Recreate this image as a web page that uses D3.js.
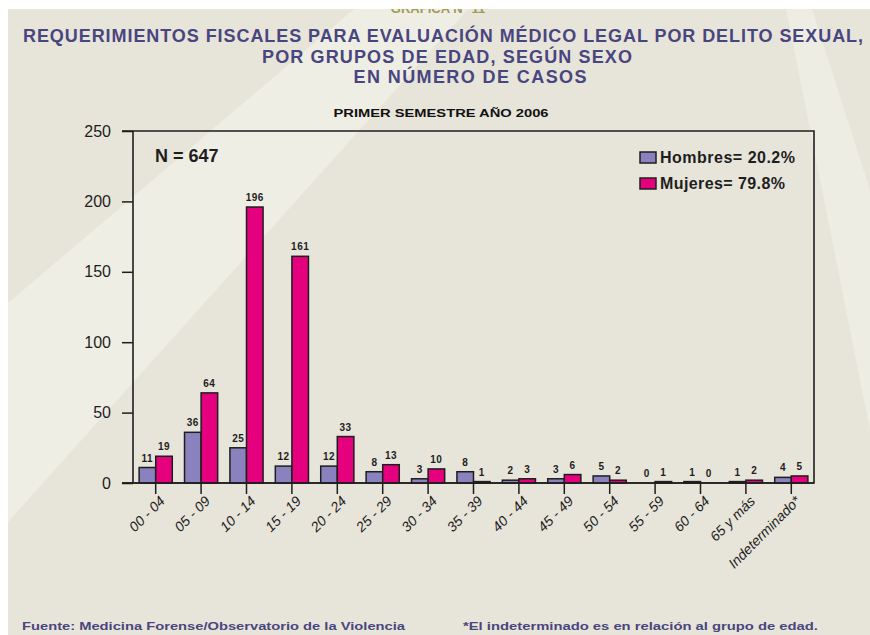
<!DOCTYPE html>
<html>
<head>
<meta charset="utf-8">
<script src="https://cdn.jsdelivr.net/npm/d3@7"></script>
<style>
  html, body { margin: 0; padding: 0; background: #ffffff; }
  svg { display: block; }
  text { font-family: "Liberation Sans", Arial, sans-serif; }
</style>
</head>
<body>
<svg id="chart" width="870" height="635"></svg>
<script>
// ---------- DATA ----------
const categories = ["00 - 04", "05 - 09", "10 - 14", "15 - 19", "20 - 24", "25 - 29", "30 - 34",
  "35 - 39", "40 - 44", "45 - 49", "50 - 54", "55 - 59", "60 - 64", "65 y más", "Indeterminado*"];
const hombres = [11, 36, 25, 12, 12, 8, 3, 8, 2, 3, 5, 0, 1, 1, 4];
const mujeres = [19, 64, 196, 161, 33, 13, 10, 1, 3, 6, 2, 1, 0, 2, 5];
const seriesNames = ["Hombres= 20.2%", "Mujeres= 79.8%"];
const seriesKeys = ["hombres", "mujeres"];
const yTicks = [0, 50, 100, 150, 200, 250];
const titleLines = [
  "REQUERIMIENTOS FISCALES PARA EVALUACIÓN MÉDICO LEGAL POR DELITO SEXUAL,",
  "POR GRUPOS DE EDAD, SEGÚN SEXO",
  "EN NÚMERO DE CASOS"
];
const subtitle = "PRIMER SEMESTRE AÑO 2006";
const nLabel = "N = 647";
const footLeft = "Fuente: Medicina Forense/Observatorio de la Violencia";
const footRight = "*El indeterminado es en relación al grupo de edad.";
const topCut = "GRÁFICA N° 11";

// ---------- STYLE ----------
const colors = { hombres: "#8a82bf", mujeres: "#e5007d" };
const titleColor = "#49467f";
const ink = "#1e1e1e";

const svg = d3.select("#chart");

// background
svg.append("rect").attr("x", 8).attr("y", 9).attr("width", 862).attr("height", 626).attr("fill", "#e7e4d9");
svg.append("polygon").attr("points", "8,303 354,9 468,9 8,522").attr("fill", "#efeee4");
svg.append("polygon").attr("points", "786,9 812,9 870,190 870,430").attr("fill", "#eeede3");

// partially cut heading at very top
svg.append("text").attr("x", 438).attr("y", 13).attr("text-anchor", "middle")
  .attr("font-size", 13).attr("font-weight", "bold").attr("fill", "#a39b52").text(topCut);
svg.append("rect").attr("x", 0).attr("y", 0).attr("width", 870).attr("height", 9).attr("fill", "#ffffff");
svg.append("rect").attr("x", 0).attr("y", 0).attr("width", 8).attr("height", 635).attr("fill", "#ffffff");

// titles
const titleX = [443, 447, 470];
const titleY = [42, 63, 83];
const titleW = [840, 370, 233];
titleLines.forEach((t, i) => {
  svg.append("text").attr("x", titleX[i]).attr("y", titleY[i]).attr("text-anchor", "middle")
    .attr("font-size", 18).attr("font-weight", "bold").attr("fill", titleColor)
    .attr("textLength", titleW[i]).attr("lengthAdjust", "spacing").text(t);
});
svg.append("text").attr("x", 441).attr("y", 117).attr("text-anchor", "middle")
  .attr("font-size", 11).attr("font-weight", "bold").attr("fill", "#111")
  .attr("textLength", 215).attr("lengthAdjust", "spacingAndGlyphs").text(subtitle);

// ---------- SCALES ----------
const pLeft = 133, pRight = 814, pTop = 131, pBottom = 483;
const x0 = d3.scaleBand().domain(categories).range([pLeft, pRight]).paddingInner(0.27).paddingOuter(0.135);
const x1 = d3.scaleBand().domain(seriesKeys).range([0, x0.bandwidth()]).padding(0);
const y = d3.scaleLinear().domain([0, 250]).range([pBottom, pTop]);

// y axis
const yAxis = svg.append("g").attr("transform", `translate(${pLeft},0)`)
  .call(d3.axisLeft(y).tickValues(yTicks).tickSize(11).tickPadding(11));
yAxis.select(".domain").remove();
yAxis.selectAll(".tick line").attr("stroke", ink).attr("stroke-width", 1.5);
yAxis.selectAll(".tick text").attr("font-size", 16).attr("fill", ink)
  .attr("font-family", "'Liberation Sans', Arial, sans-serif");

// x axis ticks & labels
const xAxis = svg.append("g").attr("transform", `translate(0,${pBottom})`)
  .call(d3.axisBottom(x0).tickSize(11).tickFormat(""));
xAxis.select(".domain").remove();
xAxis.selectAll(".tick line").attr("stroke", ink).attr("stroke-width", 1.5);

svg.append("g").selectAll("text").data(categories).join("text")
  .attr("transform", d => `translate(${x0(d) + x0.bandwidth() / 2 + 10},${pBottom + 19}) rotate(-45)`)
  .attr("text-anchor", "end").attr("font-size", 14).attr("font-style", "italic").attr("fill", ink)
  .text(d => d);

// frame
svg.append("path")
  .attr("d", `M${pLeft - 11},${pTop}H${pRight}V${pBottom}H${pLeft - 11}M${pLeft},${pTop}V${pBottom}`)
  .attr("fill", "none").attr("stroke", ink).attr("stroke-width", 1.6);

// bars
const rows = categories.map((c, i) => ({ cat: c, hombres: hombres[i], mujeres: mujeres[i] }));
const groups = svg.append("g").selectAll("g").data(rows).join("g")
  .attr("transform", d => `translate(${x0(d.cat)},0)`);
groups.selectAll("rect").data(d => seriesKeys.map(k => ({ key: k, value: d[k] })).filter(e => e.value > 0))
  .join("rect")
  .attr("x", d => x1(d.key)).attr("width", x1.bandwidth())
  .attr("y", d => y(d.value)).attr("height", d => y(0) - y(d.value))
  .attr("fill", d => colors[d.key]).attr("stroke", ink).attr("stroke-width", 1.5);
groups.selectAll("text").data(d => seriesKeys.map(k => ({ key: k, value: d[k] })))
  .join("text")
  .attr("x", d => x1(d.key) + x1.bandwidth() / 2)
  .attr("y", d => y(d.value) - 6)
  .attr("text-anchor", "middle").attr("font-size", 10).attr("font-weight", "bold")
  .attr("letter-spacing", 0.5).attr("fill", ink)
  .text(d => d.value);

// re-draw baseline on top
svg.append("line").attr("x1", pLeft - 11).attr("x2", pRight).attr("y1", pBottom).attr("y2", pBottom)
  .attr("stroke", ink).attr("stroke-width", 1.6);

// N label
svg.append("text").attr("x", 155).attr("y", 162).attr("font-size", 18).attr("font-weight", "bold")
  .attr("fill", ink).text(nLabel);

// legend
const legendLen = [135, 125];
const legend = svg.append("g").attr("transform", "translate(640,152)");
seriesKeys.forEach((k, i) => {
  const g = legend.append("g").attr("transform", `translate(0,${i * 26})`);
  g.append("rect").attr("width", 16).attr("height", 11).attr("fill", colors[k])
    .attr("stroke", ink).attr("stroke-width", 1.5);
  g.append("text").attr("x", 20).attr("y", 11).attr("font-size", 16).attr("font-weight", "bold")
    .attr("fill", ink).attr("textLength", legendLen[i]).attr("lengthAdjust", "spacing")
    .text(seriesNames[i]);
});

// footer
svg.append("text").attr("x", 22).attr("y", 630).attr("font-size", 11).attr("font-weight", "bold")
  .attr("fill", titleColor).attr("textLength", 383).attr("lengthAdjust", "spacingAndGlyphs").text(footLeft);
svg.append("text").attr("x", 463).attr("y", 630).attr("font-size", 11).attr("font-weight", "bold")
  .attr("fill", titleColor).attr("textLength", 355).attr("lengthAdjust", "spacingAndGlyphs").text(footRight);
</script>
</body>
</html>
